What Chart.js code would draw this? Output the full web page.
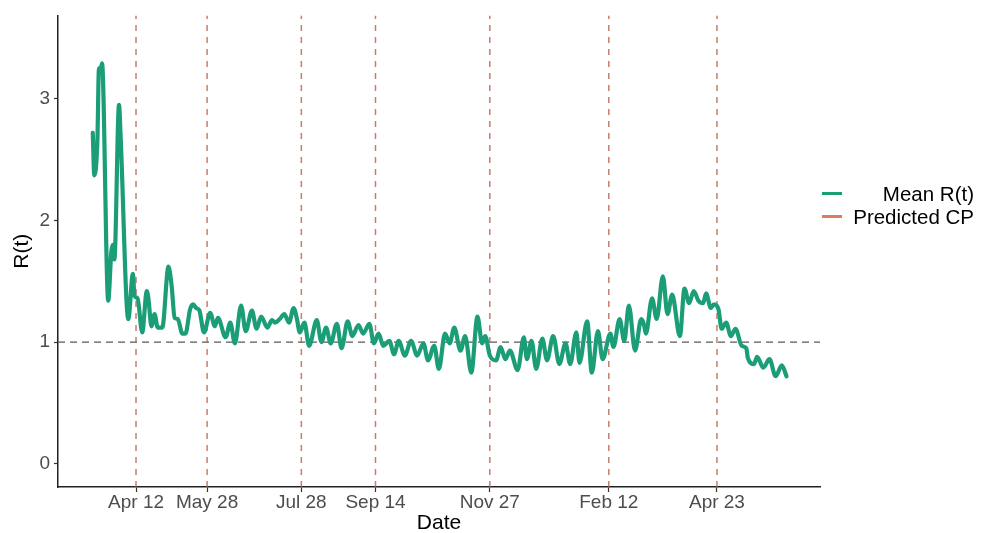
<!DOCTYPE html>
<html lang="en">
    <head>
        <meta charset="UTF-8" />
        <title>Mean R(t)</title>
        <script src="https://cdn.jsdelivr.net/npm/chart.js"></script>
        <style>
            body {
                margin: 0;
                background: #ffffff;
                font-family: "Liberation Sans", Arial, sans-serif;
            }
            #chart {
                position: relative;
                width: 987px;
                height: 533px;
            }
            #legend {
                position: absolute;
                left: 822px;
                top: 182px;
                font-size: 20.5px;
                color: #000;
            }
            .row {
                display: flex;
                align-items: center;
                height: 23px;
            }
            .key {
                width: 20px;
                height: 3px;
                margin-right: 9px;
            }
            .label {
                width: 123px;
                text-align: right;
            }
        </style>
    </head>
    <body>
        <div id="chart">
            <canvas id="myChart"></canvas>
            <div id="legend">
                <div class="row">
                    <div class="key" style="background: #1b9e77"></div>
                    <div class="label">Mean R(t)</div>
                </div>
                <div class="row">
                    <div class="key" style="background: #e07a5c"></div>
                    <div class="label">Predicted CP</div>
                </div>
            </div>
        </div>
        <script>
            // days counted from 15 Mar 2020
            const baseDate = "2020-03-15";
            const days = [
                0, 1, 3, 4, 5, 6, 10, 12, 13, 14, 17, 18, 23, 26, 27, 29, 32,
                35, 36, 38, 40, 42, 45, 49, 51, 53, 55, 58, 60, 63, 65, 67, 69,
                72, 76, 79, 81, 86, 89, 92, 96, 99, 103, 106, 109, 113, 116,
                118, 121, 124, 127, 130, 132, 134, 137, 140, 145, 148, 151, 154,
                158, 161, 165, 168, 172, 175, 179, 182, 185, 188, 192, 195, 198,
                202, 206, 210, 214, 217, 221, 224, 228, 231, 234, 238, 241, 245,
                249, 252, 254, 257, 261, 264, 267, 270, 275, 279, 281, 284, 287,
                291, 294, 298, 302, 306, 309, 313, 315, 320, 323, 327, 330, 335,
                337, 341, 344, 347, 351, 355, 357, 358, 362, 365, 369, 372, 375,
                380, 383, 386, 389, 392, 395, 397, 400, 402, 405, 407, 410, 413,
                416, 420, 423, 424, 428, 430, 434, 438, 442, 446, 449,
            ];
            const meanR = [
                2.72, 2.37, 2.66, 3.25, 3.23, 3.29, 1.34, 1.74, 1.8, 1.68, 2.95,
                2.7, 1.19, 1.56, 1.38, 1.36, 1.08, 1.42, 1.36, 1.13, 1.23, 1.12,
                1.12, 1.62, 1.47, 1.2, 1.19, 1.07, 1.07, 1.27, 1.31, 1.28, 1.26,
                1.08, 1.24, 1.13, 1.2, 1.04, 1.16, 0.99, 1.3, 1.09, 1.26, 1.11,
                1.21, 1.12, 1.18, 1.16, 1.19, 1.23, 1.16, 1.28, 1.2, 1.08, 1.16,
                0.97, 1.18, 1.0, 1.12, 0.99, 1.15, 0.95, 1.17, 1.05, 1.14, 1.07,
                1.15, 0.99, 1.07, 0.97, 1.01, 0.9, 1.01, 0.89, 1.01, 0.89, 0.99,
                0.85, 0.97, 0.78, 1.07, 0.99, 1.12, 0.93, 1.05, 0.75, 1.21, 0.99,
                1.05, 0.89, 0.85, 0.96, 0.86, 0.93, 0.77, 1.04, 0.86, 1.01, 0.78,
                1.03, 0.85, 1.05, 0.82, 0.99, 0.82, 1.08, 0.83, 1.17, 0.75, 1.09,
                0.86, 1.07, 0.96, 1.19, 1.01, 1.3, 0.93, 1.19, 1.13, 1.07, 1.36,
                1.19, 1.54, 1.23, 1.39, 1.05, 1.44, 1.32, 1.42, 1.34, 1.32, 1.4,
                1.28, 1.31, 1.27, 1.11, 1.16, 1.05, 1.11, 0.97, 0.95, 0.87, 0.82,
                0.88, 0.79, 0.86, 0.72, 0.81, 0.72,
            ];

            // predicted change points, also used as the x tick positions
            const cpDates = [
                "2020-04-12",
                "2020-05-28",
                "2020-07-28",
                "2020-09-14",
                "2020-11-27",
                "2021-02-12",
                "2021-04-23",
            ];
            const tickLabels = [
                "Apr 12",
                "May 28",
                "Jul 28",
                "Sep 14",
                "Nov 27",
                "Feb 12",
                "Apr 23",
            ];
            const yTicks = [0, 1, 2, 3];

            // axis limits
            const xMin = -22.5;
            const xMax = 470.7;
            const yMin = -0.19;
            const yMax = 3.684;

            const dayOf = (d) =>
                Math.round((Date.parse(d) - Date.parse(baseDate)) / 86400000);
            const cpDays = cpDates.map(dayOf);

            const cpSegments = [];
            cpDays.forEach((d) => {
                cpSegments.push({ x: d, y: yMin });
                cpSegments.push({ x: d, y: yMax });
                cpSegments.push({ x: d, y: null });
            });

            const ctx = document.getElementById("myChart").getContext("2d");
            const config = {
                type: "line",
                data: {
                    datasets: [
                        {
                            label: "Mean R(t)",
                            data: days.map((d, i) => ({ x: d, y: meanR[i] })),
                            borderColor: "#1b9e77",
                            borderWidth: 4.2,
                            pointRadius: 0,
                            cubicInterpolationMode: "monotone",
                            borderJoinStyle: "round",
                            borderCapStyle: "round",
                        },
                        {
                            label: "Predicted CP",
                            data: cpSegments,
                            borderColor: "rgba(180, 95, 70, 0.8)",
                            borderWidth: 1.5,
                            borderDash: [6, 6],
                            pointRadius: 0,
                            spanGaps: false,
                        },
                        {
                            label: "R = 1",
                            data: [
                                { x: xMin, y: 1 },
                                { x: xMax, y: 1 },
                            ],
                            borderColor: "#5a5a5a",
                            borderWidth: 1.2,
                            borderDash: [7, 5],
                            pointRadius: 0,
                        },
                    ],
                },
                options: {
                    responsive: true,
                    maintainAspectRatio: false,
                    animation: false,
                    layout: {
                        padding: { top: 12, right: 167, left: 0, bottom: 0 },
                    },
                    plugins: {
                        legend: { display: false },
                        tooltip: { enabled: false },
                    },
                    scales: {
                        x: {
                            type: "linear",
                            min: xMin,
                            max: xMax,
                            afterBuildTicks: (axis) => {
                                axis.ticks = cpDays.map((v) => ({ value: v }));
                            },
                            afterFit: (axis) => {
                                axis.height = 46;
                            },
                            ticks: {
                                autoSkip: false,
                                maxRotation: 0,
                                padding: 1,
                                color: "#4d4d4d",
                                font: {
                                    family: "Liberation Sans",
                                    size: 19,
                                    lineHeight: 1,
                                },
                                callback: (v, i) => tickLabels[i],
                            },
                            grid: {
                                drawOnChartArea: false,
                                drawTicks: true,
                                tickLength: 5,
                                tickColor: "#333333",
                                tickWidth: 1.2,
                            },
                            border: { color: "#222222", width: 1.5 },
                            title: {
                                display: true,
                                text: "Date",
                                color: "#000",
                                padding: { top: 0, bottom: 0 },
                                font: {
                                    family: "Liberation Sans",
                                    size: 21,
                                    lineHeight: 0.95,
                                },
                            },
                        },
                        y: {
                            type: "linear",
                            min: yMin,
                            max: yMax,
                            afterBuildTicks: (axis) => {
                                axis.ticks = yTicks.map((v) => ({ value: v }));
                            },
                            afterFit: (axis) => {
                                axis.width = 58;
                            },
                            ticks: {
                                padding: 4,
                                color: "#4d4d4d",
                                font: {
                                    family: "Liberation Sans",
                                    size: 19,
                                },
                            },
                            grid: {
                                drawOnChartArea: false,
                                drawTicks: true,
                                tickLength: 4,
                                tickColor: "#333333",
                                tickWidth: 1.2,
                            },
                            border: { color: "#222222", width: 1.5 },
                            title: {
                                display: true,
                                text: "R(t)",
                                color: "#000",
                                padding: { top: 10, bottom: 0 },
                                font: { family: "Liberation Sans", size: 21 },
                            },
                        },
                    },
                },
            };
            const myChart = new Chart(ctx, config);
        </script>
    </body>
</html>
